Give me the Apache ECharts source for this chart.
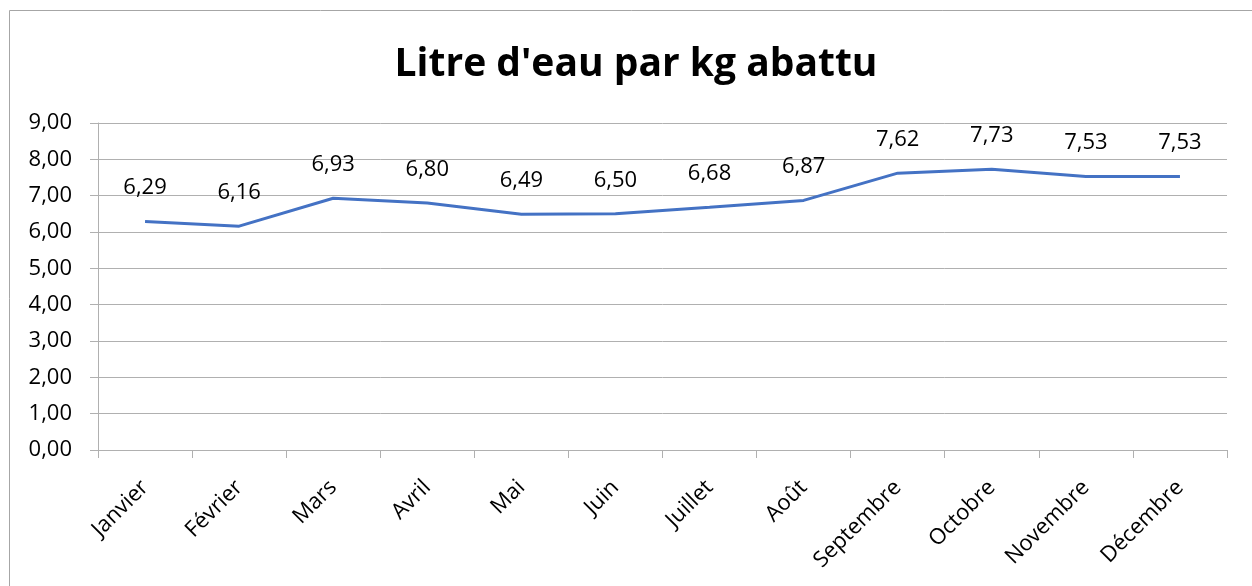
<!DOCTYPE html>
<html>
<head>
<meta charset="utf-8">
<script src="https://cdn.jsdelivr.net/npm/echarts@6/dist/echarts.min.js"></script>
<style>
html,body{margin:0;padding:0;background:#fff;}
#chart{width:1252px;height:586px;}
</style>
</head>
<body>
<div id="chart"></div>
<script>
const categories = ['Janvier','Février','Mars','Avril','Mai','Juin','Juillet','Août','Septembre','Octobre','Novembre','Décembre'];
const values = [6.29, 6.16, 6.93, 6.80, 6.49, 6.50, 6.68, 6.87, 7.62, 7.73, 7.53, 7.53];
const yMin = 0, yMax = 9, yStep = 1;
const titleText = "Litre d'eau par kg abattu";

const fmt = v => Number(v).toFixed(2).replace('.', ',');
const FONT = 'Open Sans';

const chart = echarts.init(document.getElementById('chart'), null, {renderer:'canvas'});
chart.setOption({
  animation: false,
  backgroundColor: '#ffffff',
  graphic: [{
    type: 'rect',
    shape: {x: 9.5, y: 10.5, width: 1260, height: 600},
    style: {fill: 'none', stroke: '#a6a6a6', lineWidth: 1},
    silent: true
  }],
  title: {
    text: titleText,
    left: 631,
    textAlign: 'center',
    top: 40,
    textStyle: {fontFamily: FONT, fontWeight: 'bold', fontSize: 39, color: '#000'}
  },
  grid: {left: 98, right: 25, top: 123, bottom: 136, containLabel: false},
  xAxis: {
    type: 'category',
    data: categories,
    boundaryGap: true,
    axisLine: {show: true, lineStyle: {color: '#b0b0b0', width: 1}},
    axisTick: {show: true, length: 8, inside: false, lineStyle: {color: '#b0b0b0'}},
    axisLabel: {rotate: 45, margin: 34, fontFamily: FONT, fontSize: 22, color: '#000', interval: 0}
  },
  yAxis: {
    type: 'value',
    min: yMin, max: yMax, interval: yStep,
    axisLine: {show: true, lineStyle: {color: '#b0b0b0', width: 1}},
    axisTick: {show: true, length: 8, inside: false, lineStyle: {color: '#b0b0b0'}},
    splitLine: {show: true, lineStyle: {color: '#b0b0b0', width: 1}},
    axisLabel: {formatter: fmt, margin: 26, fontFamily: FONT, fontSize: 22, color: '#000'}
  },
  series: [{
    type: 'line',
    data: values,
    showSymbol: true,
    symbol: 'circle',
    symbolSize: 1,
    lineStyle: {color: '#4472C4', width: 3},
    itemStyle: {color: 'rgba(68,114,196,0)'},
    label: {show: true, position: 'top', distance: 22, formatter: p => fmt(p.value), fontFamily: FONT, fontSize: 22, color: '#000'}
  }]
});
</script>
</body>
</html>
